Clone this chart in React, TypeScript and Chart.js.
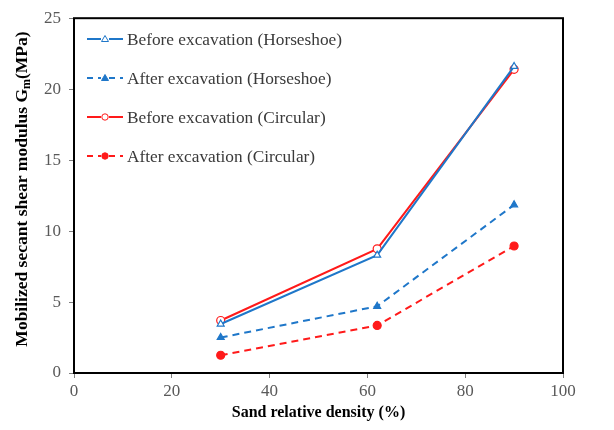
import React, { useEffect, useRef } from "react";
import { Chart, registerables } from "chart.js";

Chart.register(...registerables);

// Sand relative density (%)
const densities = [30, 62, 90];
// Mobilized secant shear modulus Gm (MPa)
const beforeHorseshoe = [3.45, 8.3, 21.6];
const afterHorseshoe = [2.5, 4.7, 11.85];
const beforeCircular = [3.7, 8.75, 21.4];
const afterCircular = [1.25, 3.35, 8.95];

const seriesLabels = [
  "Before excavation (Horseshoe)",
  "After excavation (Horseshoe)",
  "Before excavation (Circular)",
  "After excavation (Circular)",
];

const xTicks = [0, 20, 40, 60, 80, 100];
const yTicks = [0, 5, 10, 15, 20, 25];

const BLUE = "#1f77c9";
const RED = "#ff1a1a";
const SERIF = "'Liberation Serif', 'Times New Roman', serif";

const toPoints = (ys: number[]) => densities.map((x, i) => ({ x, y: ys[i] }));

// Frame, axis titles and the in-plot legend
const decorations = {
  id: "decorations",
  afterDraw(chart: any) {
    const { ctx, chartArea } = chart;
    const { left, right, top, bottom } = chartArea;
    ctx.save();

    // plot frame
    ctx.strokeStyle = "#000";
    ctx.lineWidth = 2;
    ctx.strokeRect(left, top, right - left, bottom - top);

    // x-axis title
    ctx.fillStyle = "#000";
    ctx.font = `bold 16px ${SERIF}`;
    ctx.textAlign = "center";
    ctx.textBaseline = "middle";
    ctx.fillText("Sand relative density (%)", (left + right) / 2, 413);

    // y-axis title with subscript
    ctx.save();
    ctx.translate(22, 189);
    ctx.rotate(-Math.PI / 2);
    const main = "Mobilized secant shear modulus G";
    const sub = "m";
    const tail = "(MPa)";
    const big = `bold 17.5px ${SERIF}`;
    const small = `bold 12px ${SERIF}`;
    ctx.font = big;
    const wMain = ctx.measureText(main).width;
    const wTail = ctx.measureText(tail).width;
    ctx.font = small;
    const wSub = ctx.measureText(sub).width;
    let x = -(wMain + wSub + wTail) / 2;
    ctx.textAlign = "left";
    ctx.font = big;
    ctx.fillText(main, x, 0);
    x += wMain;
    ctx.font = small;
    ctx.fillText(sub, x, 5);
    x += wSub;
    ctx.font = big;
    ctx.fillText(tail, x, 0);
    ctx.restore();

    // legend
    const rowsY = [39, 78, 117, 156];
    const x0 = 87;
    const x1 = 123;
    const xm = (x0 + x1) / 2;
    chart.data.datasets.forEach((ds: any, i: number) => {
      const y = rowsY[i];
      ctx.strokeStyle = ds.borderColor;
      ctx.lineWidth = 2;
      ctx.setLineDash(ds.borderDash ? [6, 5] : []);
      ctx.beginPath();
      ctx.moveTo(x0, y);
      ctx.lineTo(x1, y);
      ctx.stroke();
      ctx.setLineDash([]);
      ctx.fillStyle = "#fff";
      ctx.fillRect(xm - 4, y - 4, 8, 8);
      ctx.lineWidth = 1;
      ctx.strokeStyle = ds.pointBorderColor;
      ctx.fillStyle = ds.pointBackgroundColor;
      ctx.beginPath();
      if (ds.pointStyle === "triangle") {
        ctx.moveTo(xm, y - 3.5);
        ctx.lineTo(xm + 3.5, y + 2.5);
        ctx.lineTo(xm - 3.5, y + 2.5);
        ctx.closePath();
      } else {
        ctx.arc(xm, y, 3.2, 0, Math.PI * 2);
      }
      ctx.fill();
      ctx.stroke();
      ctx.fillStyle = "#3a3a3a";
      ctx.font = `17.3px ${SERIF}`;
      ctx.textAlign = "left";
      ctx.textBaseline = "middle";
      ctx.fillText(seriesLabels[i], 127, y + 1);
    });
    ctx.restore();
  },
};

export default function App() {
  const canvasRef = useRef<HTMLCanvasElement>(null);

  useEffect(() => {
    if (!canvasRef.current) return;
    const common = { pointRadius: 4, pointBorderWidth: 1.2, borderWidth: 2, tension: 0 };
    const chart = new Chart(canvasRef.current, {
      type: "line",
      data: {
        datasets: [
          {
            ...common,
            label: seriesLabels[0],
            data: toPoints(beforeHorseshoe),
            borderColor: BLUE,
            pointStyle: "triangle",
            pointBorderColor: BLUE,
            pointBackgroundColor: "#fff",
          },
          {
            ...common,
            label: seriesLabels[1],
            data: toPoints(afterHorseshoe),
            borderColor: BLUE,
            borderDash: [7, 5],
            pointStyle: "triangle",
            pointBorderColor: BLUE,
            pointBackgroundColor: BLUE,
          },
          {
            ...common,
            label: seriesLabels[2],
            data: toPoints(beforeCircular),
            borderColor: RED,
            pointStyle: "circle",
            pointBorderColor: RED,
            pointBackgroundColor: "#fff",
          },
          {
            ...common,
            label: seriesLabels[3],
            data: toPoints(afterCircular),
            borderColor: RED,
            borderDash: [7, 5],
            pointStyle: "circle",
            pointBorderColor: RED,
            pointBackgroundColor: RED,
          },
        ] as any,
      },
      options: {
        animation: false,
        responsive: false,
        devicePixelRatio: 1,
        layout: { padding: { left: 0, right: 51, top: 11, bottom: 0 } },
        plugins: { legend: { display: false }, tooltip: { enabled: false } },
        scales: {
          x: {
            type: "linear",
            min: 0,
            max: 100,
            afterBuildTicks: (s: any) => {
              s.ticks = xTicks.map((v) => ({ value: v }));
            },
            afterFit: (s: any) => {
              s.height = 57;
            },
            border: { display: false },
            grid: { drawOnChartArea: false, tickLength: 5, color: "#7f7f7f", lineWidth: 1 },
            ticks: { color: "#595959", font: { family: SERIF, size: 17 }, padding: 3 },
          },
          y: {
            type: "linear",
            min: 0,
            max: 25,
            afterBuildTicks: (s: any) => {
              s.ticks = yTicks.map((v) => ({ value: v }));
            },
            afterFit: (s: any) => {
              s.width = 74;
            },
            border: { display: false },
            grid: { drawOnChartArea: false, tickLength: 5, color: "#7f7f7f", lineWidth: 1 },
            ticks: { color: "#595959", font: { family: SERIF, size: 17 }, padding: 8 },
          },
        },
      },
      plugins: [decorations],
    });
    return () => chart.destroy();
  }, []);

  return (
    <div style={{ position: "fixed", left: 0, top: 0, width: 614, height: 430, background: "#fff" }}>
      <canvas ref={canvasRef} width={614} height={430} />
    </div>
  );
}
